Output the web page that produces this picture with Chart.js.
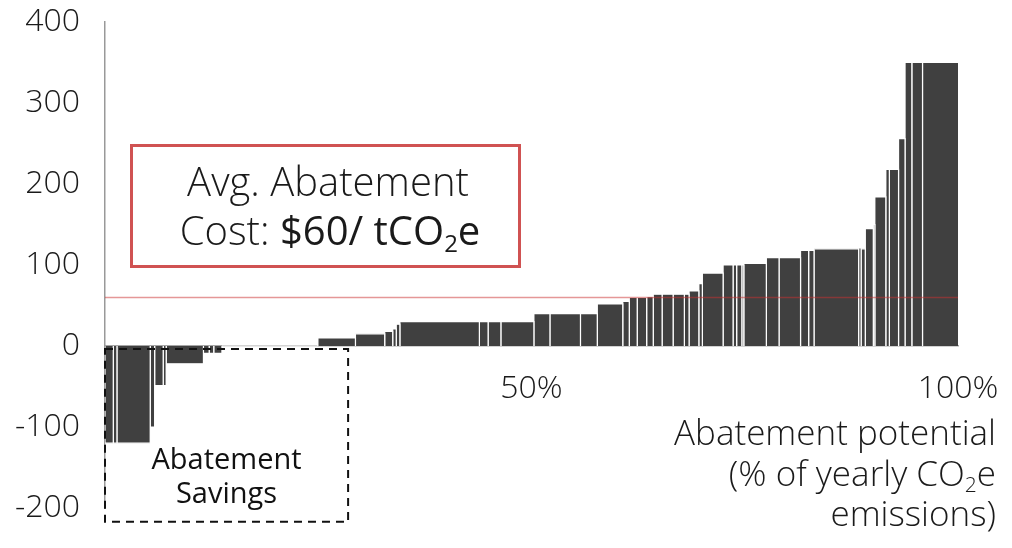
<!DOCTYPE html>
<html>
<head>
<meta charset="utf-8">
<script src="https://cdn.jsdelivr.net/npm/chart.js@4.4.1/dist/chart.umd.min.js"></script>
<style>
  html, body { margin: 0; padding: 0; background: #ffffff; }
  canvas { display: block; }
</style>
</head>
<body>
<canvas id="macc" width="1012" height="548"></canvas>
<script>
// Abatement measures ordered by cost: share of yearly CO2e emissions (%) and cost ($/tCO2e)
const measureShares = [0.97, 0.43, 3.90, 0.52, 1.00, 0.35, 4.37, 0.67, 0.54, 0.96,
  11.25, 4.40, 3.43, 0.94, 0.41, 0.43, 9.32, 1.02, 1.50, 3.87,
  1.88, 3.58, 1.97, 2.99, 0.76, 0.93, 1.11, 0.77, 1.04, 1.29,
  1.32, 0.55, 1.15, 0.41, 2.43, 1.17, 0.42, 0.61, 0.23, 2.64,
  1.49, 2.52, 0.95, 0.63, 5.23, 0.29, 0.49, 0.94, 0.18, 1.29,
  0.41, 1.08, 0.76, 0.80, 1.25, 4.16];
const measureCosts = [-120, -120, -120, -100, -49, -49, -22, -9, -9, -9,
  0, 10, 15, 18, 21, 27, 30, 30, 30, 30,
  40, 40, 40, 52, 55, 60, 60, 61, 64, 64,
  64, 64, 68, 77, 90, 100, 100, 100, 100, 102,
  109, 109, 118, 118, 120, 121, 120, 145, 150, 184,
  218, 218, 256, 350, 350, 350];
const avgCost = 60;
const costTicks = [-200, -100, 0, 100, 200, 300, 400];
const shareTicks = [50, 100];
const savingsShareEnd = 28.5;

const LIGHT = '"Open Sans", "DejaVu Sans", sans-serif';

// cumulative edges of each measure along the potential axis
const edges = [0];
measureShares.forEach(s => edges.push(edges[edges.length - 1] + s));

const barSets = measureCosts.map((c, i) => ({
  type: 'line',
  data: [
    { x: edges[i], y: 0 },
    { x: edges[i], y: c },
    { x: edges[i + 1], y: c },
    { x: edges[i + 1], y: 0 }
  ],
  fill: 'origin',
  backgroundColor: '#404040',
  borderColor: '#ffffff',
  borderWidth: 1.2,
  pointRadius: 0,
  tension: 0,
  order: 2
}));

const avgLine = {
  type: 'line',
  data: [{ x: 0, y: avgCost }, { x: 100, y: avgCost }],
  borderColor: 'rgba(204, 48, 48, 0.5)',
  borderWidth: 1.5,
  fill: false,
  pointRadius: 0,
  order: 0
};

function drawRuns(ctx, runs, x, y, align) {
  let total = 0;
  runs.forEach(r => { ctx.font = r.font; r.w = ctx.measureText(r.text).width; total += r.w; });
  let cx = align === 'center' ? x - total / 2 : (align === 'right' ? x - total : x);
  ctx.textAlign = 'left';
  ctx.textBaseline = 'alphabetic';
  runs.forEach(r => {
    ctx.font = r.font;
    ctx.fillText(r.text, cx, y + (r.dy || 0));
    cx += r.w;
  });
}

const annotations = {
  id: 'annotations',
  afterDraw(chart) {
    const { ctx, scales: { x, y } } = chart;
    ctx.save();

    // average cost call-out
    ctx.strokeStyle = '#d05252';
    ctx.lineWidth = 3;
    ctx.strokeRect(131.5, 145.5, 388, 121);
    ctx.fillStyle = '#1a1a1a';
    drawRuns(ctx, [{ text: 'Avg. Abatement', font: '300 40px ' + LIGHT }], 328, 196, 'center');
    drawRuns(ctx, [
      { text: 'Cost: ', font: '300 40px ' + LIGHT },
      { text: '$' + avgCost + '/ tCO', font: '400 40px ' + LIGHT },
      { text: '2', font: '400 24px ' + LIGHT, dy: 7 },
      { text: 'e', font: '400 40px ' + LIGHT }
    ], 330, 245, 'center');

    // savings region
    const left = x.getPixelForValue(0);
    const right = x.getPixelForValue(savingsShareEnd);
    const top = y.getPixelForValue(0) + 3;
    const bottom = y.getPixelForValue(-217);
    ctx.setLineDash([8, 6]);
    ctx.strokeStyle = '#111111';
    ctx.lineWidth = 2;
    ctx.strokeRect(left, top, right - left, bottom - top);
    ctx.setLineDash([]);
    ctx.fillStyle = '#111111';
    drawRuns(ctx, [{ text: 'Abatement', font: '400 29px ' + LIGHT }], (left + right) / 2, 469, 'center');
    drawRuns(ctx, [{ text: 'Savings', font: '400 29px ' + LIGHT }], (left + right) / 2, 503, 'center');

    // potential axis title
    ctx.fillStyle = '#1a1a1a';
    drawRuns(ctx, [{ text: 'Abatement potential', font: '300 35px ' + LIGHT }], 996, 445, 'right');
    drawRuns(ctx, [
      { text: '(% of yearly CO', font: '300 35px ' + LIGHT },
      { text: '2', font: '300 21px ' + LIGHT, dy: 6 },
      { text: 'e', font: '300 35px ' + LIGHT }
    ], 996, 486, 'right');
    drawRuns(ctx, [{ text: 'emissions)', font: '300 35px ' + LIGHT }], 996, 526, 'right');

    ctx.restore();
  }
};

new Chart(document.getElementById('macc'), {
  type: 'line',
  data: { datasets: [avgLine, ...barSets] },
  options: {
    responsive: false,
    animation: false,
    devicePixelRatio: 1,
    layout: { padding: { top: 22, bottom: 40, left: 0, right: 54 } },
    plugins: { legend: { display: false }, tooltip: { enabled: false } },
    events: [],
    scales: {
      x: {
        type: 'linear',
        min: 0,
        max: 100,
        position: { y: 0 },
        grid: { display: false, drawTicks: false },
        border: { display: true, color: '#a6a6a6', width: 1.5 },
        afterBuildTicks: axis => { axis.ticks = shareTicks.map(v => ({ value: v })); },
        afterFit: axis => { axis.height = 0; axis.paddingLeft = 0; axis.paddingRight = 0; },
        ticks: {
          padding: 24,
          color: '#1a1a1a',
          font: { family: LIGHT, size: 32, weight: 300 },
          maxRotation: 0,
          autoSkip: false,
          callback: v => v + '%'
        }
      },
      y: {
        type: 'linear',
        min: -200,
        max: 400,
        position: 'left',
        grid: { display: false, drawTicks: false },
        border: { display: true, color: '#999999', width: 1.5 },
        afterBuildTicks: axis => { axis.ticks = costTicks.map(v => ({ value: v })); },
        afterFit: axis => { axis.width = 105; axis.paddingTop = 0; axis.paddingBottom = 0; },
        ticks: {
          padding: 25,
          color: '#1a1a1a',
          font: { family: LIGHT, size: 32, weight: 300 }
        }
      }
    }
  },
  plugins: [annotations]
});
</script>
</body>
</html>
